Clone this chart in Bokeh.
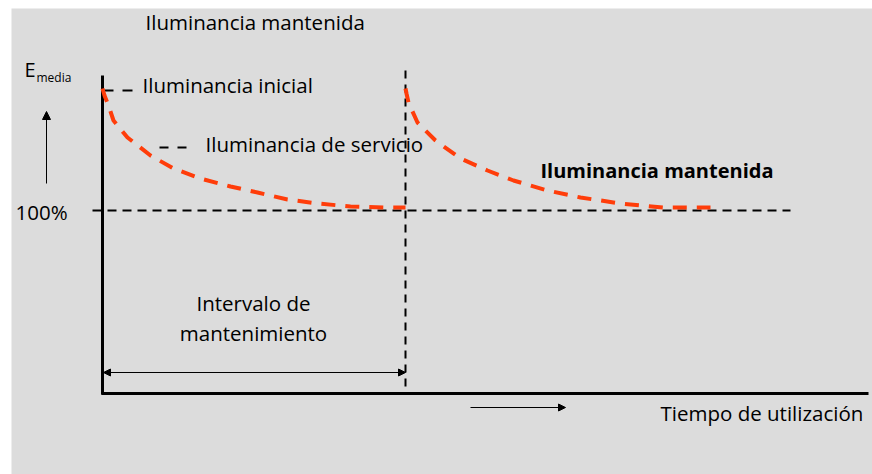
from bokeh.plotting import figure
from bokeh.models import Range1d, Arrow, NormalHead, ColumnDataSource
from bokeh.core.properties import value
from bokeh.embed import file_html
from bokeh.resources import INLINE

# --- data (schematic coordinates) ---
# first maintenance cycle: time position vs illuminance level
cycle1_t = [102, 104, 108, 113, 127, 150, 173, 200, 230, 257, 287, 317, 350, 383, 405]
cycle1_e = [88, 95, 105, 120, 137, 155, 168, 178, 186, 192, 199, 203, 206, 207, 207]
# second cycle after maintenance
cycle2_t = [405, 406, 408, 417, 435, 460, 487, 513, 547, 580, 620, 663, 710]
cycle2_e = [88, 93, 102, 122, 140, 158, 170, 180, 190, 197, 203, 207, 207]

level_100 = 210          # 100 % level
t_start = 102            # start of use
t_maint = 405            # maintenance moment
t_end = 868

labels = ["Iluminancia mantenida", "Iluminancia inicial", "Iluminancia de servicio",
          "Iluminancia mantenida", "100%", "Intervalo de", "mantenimiento",
          "Tiempo de utilización"]

FONT = "Open Sans"
BG = "#dcdcdc"
RED = "#ff3d0a"
FS = "20.5px"

p = figure(width=872, height=474, output_backend="svg", toolbar_location=None,
           x_range=Range1d(11, 872), y_range=Range1d(474, 8),
           min_border_left=11, min_border_right=0, min_border_top=8, min_border_bottom=0)
p.axis.visible = False
p.grid.visible = False
p.outline_line_color = None
p.background_fill_color = BG
p.border_fill_color = "white"

# axes of the diagram
p.line([t_start, t_start], [75, 394], line_color="black", line_width=3)
p.line([t_start - 1, t_end], [393, 393], line_color="black", line_width=3)

# 100% dashed level
p.line([92, 790], [level_100, level_100], line_color="black", line_width=2, line_dash="9 6")
# maintenance dashed vertical
p.line([t_maint, t_maint], [70, 394], line_color="black", line_width=2, line_dash="8 6")

# legend-like dashes
p.line([103, 134], [90, 90], line_color="black", line_width=2, line_dash="10 9")
p.line([159, 188], [147, 147], line_color="black", line_width=2, line_dash="9 9")

# illuminance curves
p.line(cycle1_t, cycle1_e, line_color=RED, line_width=4, line_dash="14 10")
p.line(cycle2_t, cycle2_e, line_color=RED, line_width=4, line_dash="14 10")

# arrows
p.add_layout(Arrow(end=NormalHead(size=8, fill_color="black", line_color="black"),
                   x_start=46, y_start=183, x_end=46, y_end=111,
                   line_color="black", line_width=1))
p.add_layout(Arrow(start=NormalHead(size=7, fill_color="black", line_color="black"),
                   end=NormalHead(size=7, fill_color="black", line_color="black"),
                   x_start=t_start + 1, y_start=372, x_end=t_maint, y_end=372,
                   line_color="black", line_width=1))
p.add_layout(Arrow(end=NormalHead(size=7, fill_color="black", line_color="black"),
                   x_start=470, y_start=407, x_end=565, y_end=407,
                   line_color="black", line_width=1))

# texts
txt = ColumnDataSource(dict(
    x=[145, 142, 205, 15, 660],
    y=[21, 84, 143, 211, 412],
    t=[labels[0], labels[1], labels[2], labels[4], labels[7]],
))
p.text("x", "y", text="t", source=txt, text_font=value(FONT), text_font_size=FS,
       text_color="black", text_align="left", text_baseline="middle")
p.text([540], [170], text=[labels[3]], text_font=value(FONT), text_font_size="20px",
       text_font_style="bold", text_color="black", text_align="left", text_baseline="middle")
p.text([253, 253], [302, 332], text=[labels[5], labels[6]], text_font=value(FONT),
       text_font_size=FS, text_color="black", text_align="center", text_baseline="middle")
p.text([24], [69], text=["E"], text_font=value(FONT), text_font_size="20px",
       text_color="black", text_align="left", text_baseline="middle")
p.text([36], [77], text=["media"], text_font=value(FONT), text_font_size="12px",
       text_color="black", text_align="left", text_baseline="middle")

open("out.html", "w").write(file_html(p, INLINE))
